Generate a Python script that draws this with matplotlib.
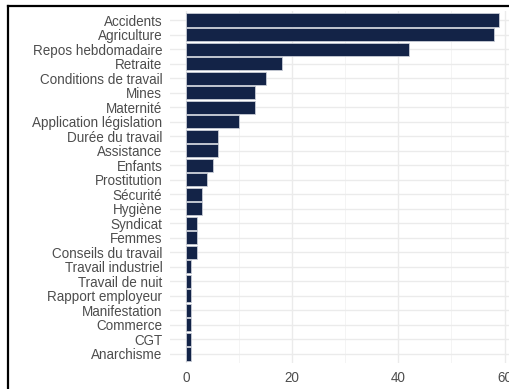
import matplotlib.pyplot as plt
from matplotlib.lines import Line2D

# data, top to bottom as drawn
themes = ['Accidents', 'Agriculture', 'Repos hebdomadaire', 'Retraite',
          'Conditions de travail', 'Mines', 'Maternité', 'Application législation',
          'Durée du travail', 'Assistance', 'Enfants', 'Prostitution', 'Sécurité',
          'Hygiène', 'Syndicat', 'Femmes', 'Conseils du travail', 'Travail industriel',
          'Travail de nuit', 'Rapport employeur', 'Manifestation', 'Commerce', 'CGT',
          'Anarchisme']
counts = [59, 58, 42, 18, 15, 13, 13, 10, 6, 6, 5, 4, 3, 3, 2, 2, 2, 1, 1, 1, 1, 1, 1, 1]
x_ticks = [0, 20, 40, 60]

plt.rcParams['font.family'] = ['Liberation Sans', 'DejaVu Sans']

fig = plt.figure(figsize=(5.09, 3.89), dpi=100)
ax = fig.add_axes([0.3346, 0.0676, 0.677, 0.9033])

n = len(themes)
ypos = list(range(n))[::-1]
ax.barh(ypos, counts, height=0.9, color='#132347', edgecolor='#c8ccd6', linewidth=0.6, zorder=3)

ax.set_xlim(-2.95, 61.95)
ax.set_ylim(-0.6, n - 1 + 0.6)
ax.set_yticks(ypos)
ax.set_yticklabels(themes)
ax.set_xticks(x_ticks)
ax.set_xticks([10, 30, 50], minor=True)

ax.grid(True, which='major', color='#ebebeb', linewidth=1.0, zorder=0)
ax.grid(True, which='minor', axis='x', color='#f3f3f3', linewidth=0.6, zorder=0)
ax.tick_params(axis='both', which='both', length=0, labelsize=9.75, labelcolor='#4d4d4d')
ax.tick_params(axis='y', pad=5.8)
ax.tick_params(axis='x', pad=6.0)
for s in ax.spines.values():
    s.set_visible(False)

# screenshot frame (top and left edges)
fig.add_artist(Line2D([7.5 / 509, 1], [1 - 5.5 / 389, 1 - 5.5 / 389], color='black', linewidth=1.6))
fig.add_artist(Line2D([7.5 / 509, 7.5 / 509], [0, 1 - 5.5 / 389], color='black', linewidth=1.6))

fig.savefig('out.png', dpi=100)
